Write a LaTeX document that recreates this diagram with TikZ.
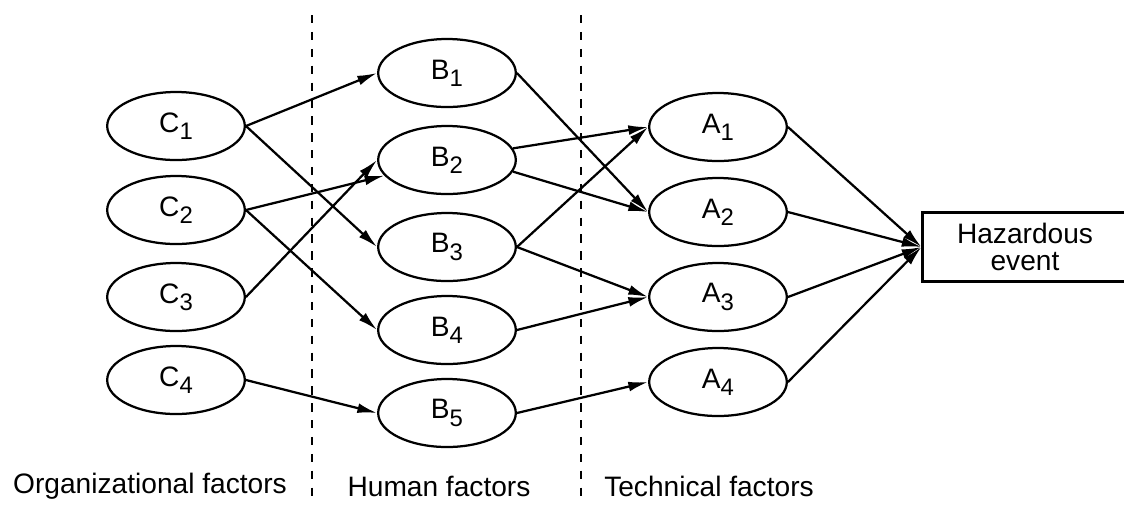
\documentclass[tikz,border=0pt]{standalone}
\usepackage{fontspec}
\setmainfont{Liberation Sans}
\usetikzlibrary{shapes.geometric,arrows.meta}
\newcommand{\fsub}[1]{\raisebox{-2.6pt}{\fontsize{8.5}{9}\selectfont #1}}
\tikzset{
    factor/.style={draw,thick,ellipse,minimum width=1.72cm,minimum height=0.85cm,inner sep=0pt},
    event/.style={draw,thick,rectangle,minimum width=2.56cm,minimum height=0.86cm,align=center,inner sep=1pt,
        font=\fontsize{10}{9.6}\selectfont},
}
\begin{document}
\begin{tikzpicture}[x=0.0125cm,y=-0.0125cm,font=\fontsize{10}{11}\selectfont,>={Latex[length=7pt,width=3.5pt]}]
        \useasboundingbox (0,0) rectangle (1124,505);
        %% Borders between the groups
        \draw[dashed,thick] (312,15) -- (312,497);
        \draw[dashed,thick] (581,15) -- (581,497);
        %% Factors
        \foreach \n/\y in {1/126,2/210,3/297,4/380}
            \node[factor] (C\n) at (176,\y) {C\fsub{\n}};
        \foreach \n/\y in {1/73,2/160,3/247,4/330,5/413}
            \node[factor] (B\n) at (447,\y) {B\fsub{\n}};
        \foreach \n/\y in {1/127,2/212,3/297,4/382}
            \node[factor] (A\n) at (718,\y) {A\fsub{\n}};
        %% right side of the box runs off the page
        \node[event] (hazard) at (1025,247) {Hazardous\\event};
        %% Links
        \foreach \s/\t in {C1/B1,C1/B3,C2/B4,C3/B2,C4/B5,B1/A2,B3/A1,B3/A3,B4/A3,B5/A4}
            \draw[thick,->] (\s.east) -- (\t.west);
        \draw[thick,->] (C2.east) -- (B2);
        \draw[thick,->] (B2.10) -- (A1.west);
        \draw[thick,->] (B2.-10) -- (A2.west);
        \foreach \n in {1,...,4}
            \draw[thick,->] (A\n.east) -- (hazard.west);
        %% Group names
        \node (orglabel) at (150,486) {Organizational factors};
        \node (humlabel) at (439,486) {Human factors};
        \node (teclabel) at (709,486) {Technical factors};
    \end{tikzpicture}
\end{document}
